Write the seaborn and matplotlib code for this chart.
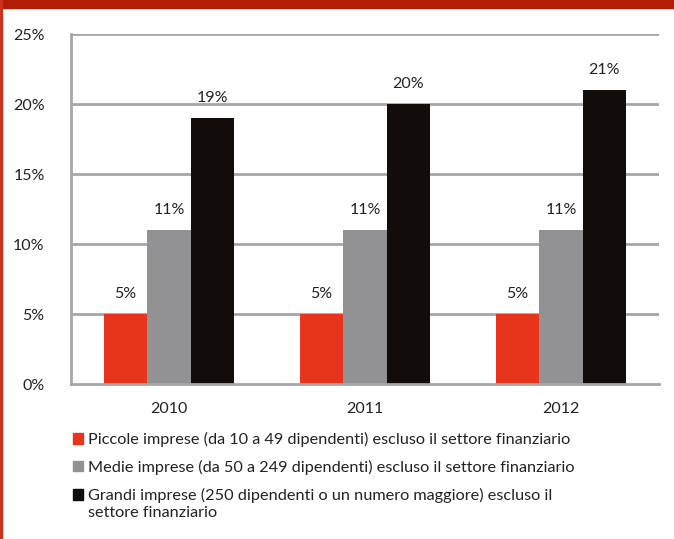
import matplotlib
matplotlib.use("Agg")
import matplotlib.pyplot as plt
import matplotlib.patches as mpatches
from matplotlib.legend_handler import HandlerPatch
from matplotlib.ticker import FixedLocator
import seaborn as sns
import pandas as pd

years = ["2010", "2011", "2012"]
series = [
    "Piccole imprese (da 10 a 49 dipendenti) escluso il settore finanziario",
    "Medie imprese (da 50 a 249 dipendenti) escluso il settore finanziario",
    "Grandi imprese (250 dipendenti o un numero maggiore) escluso il\nsettore finanziario",
]
piccole = [5, 5, 5]
medie = [11, 11, 11]
grandi = [19, 20, 21]
colors = ["#E6341D", "#929194", "#120D0A"]

rows = []
for name, vals in zip(series, [piccole, medie, grandi]):
    for y, v in zip(years, vals):
        rows.append({"anno": y, "serie": name, "valore": v})
df = pd.DataFrame(rows)

sns.set_style("white")
plt.rcParams["font.family"] = ["Lato", "DejaVu Sans"]

fig = plt.figure(figsize=(6.74, 5.39), dpi=100)
ax = fig.add_axes([71 / 674, 1 - 384 / 539, (659 - 71) / 674, (384 - 34) / 539])

sns.barplot(data=df, x="anno", y="valore", hue="serie", palette=colors,
            width=0.665, gap=0, saturation=1, linewidth=0, edgecolor="none",
            ax=ax, legend=False)

grid_c = "#A6A6A6"
txt_c = "#222222"
ax.set_ylim(0, 25)
ax.set_xlim(-0.5, 2.5)
ax.set_yticks([0, 5, 10, 15, 20, 25])
ax.set_yticklabels([f"{t}%" for t in [0, 5, 10, 15, 20, 25]], fontsize=11.5)
ax.set_xticks(range(len(years)))
ax.set_xticklabels(years, fontsize=11.5)
ax.set_xlabel("")
ax.set_ylabel("")
for t in [5, 10, 15, 20, 25]:
    ax.axhline(t, color=grid_c, lw=2, zorder=0)
for s in ["top", "right"]:
    ax.spines[s].set_visible(False)
for s in ["left", "bottom"]:
    ax.spines[s].set_color(grid_c)
    ax.spines[s].set_linewidth(2)
ax.tick_params(axis="y", length=5, width=2, color=grid_c, pad=14, labelcolor=txt_c)
ax.tick_params(axis="x", which="major", length=0, pad=13, labelcolor=txt_c)
ax.xaxis.set_minor_locator(FixedLocator([-0.5, 0.5, 1.5, 2.5]))
ax.tick_params(axis="x", which="minor", length=5, width=2, color=grid_c)

for cont in ax.containers:
    ax.bar_label(cont, labels=[f"{int(v)}%" for v in cont.datavalues],
                 padding=9, fontsize=11.5, color=txt_c)


def raised_square(legend, orig_handle, xdescent, ydescent, width, height, fontsize):
    # square aligned with the first line of a two-line label
    return mpatches.Rectangle((-xdescent, -ydescent + 6.5), width, height)


handles = [mpatches.Patch(color=c, label=s) for c, s in zip(colors, series)]
leg = fig.legend(handles=handles, loc="upper left", bbox_to_anchor=(73 / 674, 1 - 432 / 539),
                 frameon=False, fontsize=11.7, handlelength=0.62, handleheight=0.62,
                 handletextpad=0.28, labelspacing=0.78, borderpad=0, borderaxespad=0,
                 labelcolor=txt_c,
                 handler_map={handles[2]: HandlerPatch(patch_func=raised_square)})
for t in leg.get_texts():
    t.set_linespacing(1.3)

# red frame
fig.patches.append(mpatches.Rectangle((0, 1 - 8 / 539), 1, 8 / 539, transform=fig.transFigure,
                                      color="#B01E05", zorder=10))
fig.patches.append(mpatches.Rectangle((0, 0), 2 / 674, 1, transform=fig.transFigure,
                                      color="#C8321E", zorder=10))

fig.savefig("out.png", dpi=100)
